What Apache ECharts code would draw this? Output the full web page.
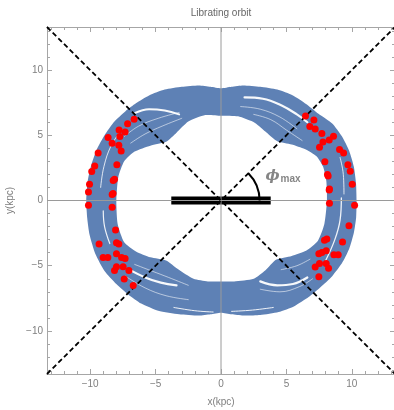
<!DOCTYPE html>
<html>
<head>
<meta charset="utf-8">
<script src="https://cdn.jsdelivr.net/npm/echarts@6/dist/echarts.min.js"></script>
<style>html,body{margin:0;padding:0;background:#fff}#c{width:394px;height:410px}</style>
</head>
<body>
<div id="c"></div>
<script>
// ---------- data ----------
const TITLE = 'Librating orbit';
const X_NAME = 'x(kpc)';
const Y_NAME = 'y(kpc)';
const MAJOR_TICKS = [-10, -5, 0, 5, 10];
const MINOR_TICKS = [-13, -12, -11, -9, -8, -7, -6, -4, -3, -2, -1, 1, 2, 3, 4, 6, 7, 8, 9, 11, 12, 13];

// outer edge of the orbit band (x, y in kpc)
const bandOuter = [
  [10.36, 0], [10.32, 1.3], [10.15, 2.6], [9.8, 3.8], [9.25, 4.9], [8.5, 5.9], [7.45, 6.65], [6.5, 7.4],
  [5.5, 8.05], [4.3, 8.5], [3.0, 8.72], [1.7, 8.82], [0.8, 8.72], [0, 8.6],
  [-0.8, 8.72], [-1.7, 8.82], [-3.0, 8.72], [-4.3, 8.5], [-5.5, 8.05], [-6.5, 7.45], [-7.3, 6.85], [-8.2, 6.0],
  [-8.9, 5.0], [-9.5, 3.9], [-9.95, 2.6], [-10.2, 1.4], [-10.3, 0],
  [-10.22, -1.4], [-10.05, -2.6], [-9.6, -4.1], [-8.9, -5.4], [-8.0, -6.4], [-7.1, -7.2], [-6.1, -7.9],
  [-4.8, -8.45], [-3.2, -8.72], [-1.7, -8.82], [-0.8, -8.72], [0, -8.6],
  [0.8, -8.72], [1.7, -8.82], [3.0, -8.78], [4.4, -8.55], [5.6, -8.1], [6.7, -7.4], [7.6, -6.65],
  [8.5, -5.8], [9.25, -4.8], [9.8, -3.7], [10.15, -2.5], [10.33, -1.3]
];
// inner edge of the orbit band (hole)
const bandInner = [
  [8.1, 0], [8.05, 1.5], [7.8, 2.6], [7.3, 3.4], [6.4, 3.95], [5.4, 4.3], [4.3, 4.55], [3.5, 5.2],
  [2.6, 5.95], [1.3, 6.45], [0, 6.5],
  [-1.2, 6.55], [-2.5, 6.05], [-3.4, 5.2], [-4.2, 4.5], [-5.4, 4.2], [-6.6, 3.75], [-7.4, 3.0], [-7.85, 1.8], [-8.0, 0],
  [-7.9, -1.8], [-7.4, -3.2], [-6.5, -3.9], [-5.4, -4.35], [-4.2, -4.6], [-3.3, -5.25], [-2.1, -6.0], [-1.0, -6.2], [0, -6.2],
  [1.0, -6.2], [2.5, -6.0], [3.4, -5.35], [4.2, -4.55], [5.4, -4.25], [6.5, -3.85], [7.4, -3.1], [7.9, -1.8]
];
// white gaps between orbit strands (wider ones)
const gapTopLeft = [[-6.6, 6.7], [-5.5, 7.0], [-4.3, 6.9], [-3.2, 6.6]];
const gapTopRight = [[1.8, 7.9], [3.2, 7.8], [4.6, 7.3], [5.8, 6.6], [6.6, 6.0]];
const gapBotLeft = [[-7.0, -5.3], [-5.8, -5.9], [-4.6, -6.3], [-3.4, -6.5]];
const gapBotRight = [[3.0, -6.2], [4.3, -6.5], [5.5, -6.4], [6.6, -5.9]];
// thin white streaks
const gapBottomL = [[-3.6, -8.2], [-2.0, -8.45], [-0.6, -8.55]];
const gapBottomR = [[0.8, -8.5], [2.4, -8.4], [4.0, -8.2]];
const gapLeftLow = [[-9.0, -0.8], [-8.9, -2.0], [-8.5, -3.3]];
const gapLeftUp = [[-9.2, 1.0], [-8.95, 2.6], [-8.4, 4.2], [-7.6, 5.4]];
const gapRightLow = [[9.2, 0.2], [9.1, -1.5], [8.7, -3.0], [8.0, -4.6]];
const gapRightUp = [[9.4, 0.5], [9.35, 2.0], [9.1, 3.3]];
const streakTL1 = [[-7.4, 4.9], [-6.3, 5.7], [-4.8, 6.3], [-3.2, 6.75]];
const streakTL2 = [[-6.9, 4.4], [-5.8, 5.1], [-4.5, 5.7], [-3.0, 6.3]];
const streakTR1 = [[1.5, 7.2], [3.0, 7.0], [4.5, 6.4], [5.8, 5.5]];
const streakTR2 = [[2.5, 6.6], [3.8, 6.2], [5.0, 5.4], [6.2, 4.6]];
const streakBL1 = [[-6.6, -4.9], [-5.3, -5.4], [-4.0, -5.9], [-2.5, -6.5]];
const streakBL2 = [[-7.3, -5.8], [-5.8, -6.7], [-4.2, -7.3], [-2.5, -7.6]];
const streakBR1 = [[3.0, -6.8], [4.5, -7.0], [6.0, -6.6], [7.0, -6.0]];
const streakBR2 = [[4.6, -5.3], [5.8, -5.0], [6.8, -4.5]];

// red points
const redDots = [
  [-6.64, 6.22], [-7.14, 5.89], [-7.79, 5.40], [-7.33, 5.25], [-7.73, 4.90], [-8.63, 4.82], [-8.32, 4.38],
  [-7.81, 4.23], [-7.63, 3.80], [-9.39, 3.64], [-9.65, 2.65], [-9.88, 2.22], [-7.96, 2.75], [-8.14, 1.63],
  [-8.24, 1.53], [-10.05, 1.25], [-10.13, 0.66], [-8.25, 0.53], [-8.32, 0.46],
  [-10.13, -0.36], [-8.32, -0.51], [-8.06, -2.27], [-9.32, -3.34], [-7.99, -3.24], [-7.81, -3.34], [-7.99, -4.09],
  [-9.01, -4.36], [-8.65, -4.36], [-7.60, -4.36], [-7.33, -4.44], [-7.99, -5.08], [-7.48, -5.08], [-8.14, -5.36],
  [-7.04, -5.36], [-7.40, -6.02], [-6.71, -6.51],
  [6.46, 6.47], [7.10, 6.17], [6.79, 5.68], [7.20, 5.48], [7.71, 5.13], [8.60, 4.92], [8.27, 4.64], [7.79, 4.48],
  [7.53, 4.08], [9.06, 3.90], [9.37, 3.64], [7.94, 2.98], [9.70, 2.75], [9.88, 2.24], [8.14, 1.99], [8.19, 1.88],
  [10.03, 1.25], [8.29, 0.89], [8.27, 0.80],
  [8.29, -0.21], [10.21, -0.36], [9.78, -1.94], [7.91, -3.04], [8.09, -2.96], [9.29, -3.19], [7.48, -4.09],
  [7.71, -3.98], [8.04, -3.86], [8.63, -4.16], [8.96, -4.16], [7.53, -4.82], [7.20, -5.10], [8.04, -4.82],
  [8.22, -5.20], [7.48, -5.85]
];

const axisXLine = [[-13.3, 0], [13.3, 0]];
const axisYLine = [[0, -13.3], [0, 13.3]];
const diagUp = [[-13.3, -13.3], [13.3, 13.3]];
const diagDown = [[-13.3, 13.3], [13.3, -13.3]];
const barLine = [[-3.8, 0], [3.8, 0]];
const arcRadius = 2.95;      // kpc
const arcAngleDeg = 45;      // phi_max
const phiLabelPos = [[3.36, 1.88]];

// ---------- styling ----------
const BLUE = '#5E81B5';
const FRAME = '#a6a6a6';
const TXT = '#7f7f7f';
const FONT = '"Liberation Sans", Arial, sans-serif';
const RANGE = 13.3;

const fmt = v => String(v).replace('-', '\u2212');

function xAx(pos, major) {
  return {
    type: 'value', position: pos, min: -RANGE, max: RANGE, gridIndex: 0,
    name: (pos === 'bottom' && major) ? X_NAME : '',
    nameLocation: 'middle', nameGap: 23,
    nameTextStyle: { color: TXT, fontSize: 10, fontFamily: FONT },
    axisLine: { show: major, onZero: false, lineStyle: { color: FRAME, width: 1 } },
    axisTick: { show: true, inside: true, length: major ? 5 : 3, customValues: major ? MAJOR_TICKS : MINOR_TICKS,
      lineStyle: { color: FRAME, width: 1 } },
    axisLabel: { show: pos === 'bottom' && major, customValues: MAJOR_TICKS, formatter: fmt,
      color: TXT, fontSize: 10, fontFamily: FONT, margin: 5 },
    splitLine: { show: false }, minorTick: { show: false }
  };
}
function yAx(pos, major) {
  return {
    type: 'value', position: pos, min: -RANGE, max: RANGE, gridIndex: 0,
    name: (pos === 'left' && major) ? Y_NAME : '',
    nameLocation: 'middle', nameGap: 31, nameRotate: 90,
    nameTextStyle: { color: TXT, fontSize: 10, fontFamily: FONT },
    axisLine: { show: major, onZero: false, lineStyle: { color: FRAME, width: 1 } },
    axisTick: { show: true, inside: true, length: major ? 5 : 3, customValues: major ? MAJOR_TICKS : MINOR_TICKS,
      lineStyle: { color: FRAME, width: 1 } },
    axisLabel: { show: pos === 'left' && major, customValues: MAJOR_TICKS, formatter: fmt,
      color: TXT, fontSize: 10, fontFamily: FONT, margin: 4 },
    splitLine: { show: false }, minorTick: { show: false }
  };
}

function lineSeries(data, color, width, z, type, opacity, cap) {
  return {
    type: 'line', data: data, xAxisIndex: 0, yAxisIndex: 0, symbol: 'none', silent: true, z: z,
    smooth: data.length > 2 ? 0.4 : false, animation: false,
    lineStyle: { color: color, width: width, type: type || 'solid', cap: cap || 'butt', opacity: opacity == null ? 1 : opacity }
  };
}

const gaps = [
  [gapTopLeft, 2, 0.95], [gapTopRight, 2.2, 0.95], [gapBotLeft, 2.2, 0.95], [gapBotRight, 2.2, 0.95],
  [gapBottomL, 1, 0.9], [gapBottomR, 1, 0.9], [gapLeftLow, 1.2, 0.9], [gapLeftUp, 1, 0.8],
  [gapRightLow, 1.3, 0.9], [gapRightUp, 1, 0.8],
  [streakTL1, 0.8, 0.7], [streakTL2, 0.8, 0.7], [streakTR1, 0.8, 0.7], [streakTR2, 0.8, 0.7],
  [streakBL1, 0.8, 0.7], [streakBL2, 0.8, 0.7], [streakBR1, 0.8, 0.7], [streakBR2, 0.8, 0.7]
];

const chart = echarts.init(document.getElementById('c'), null, { renderer: 'canvas' });
chart.setOption({
  animation: false,
  backgroundColor: '#fff',
  grid: { left: 47, top: 27, width: 348, height: 347, containLabel: false, outerBoundsMode: 'none' },
  graphic: [{
    type: 'text', x: 221, y: 13,
    style: { text: TITLE, fill: '#666', font: '10px ' + FONT, align: 'center', verticalAlign: 'middle' }
  }],
  xAxis: [xAx('bottom', true), xAx('bottom', false), xAx('top', true), xAx('top', false)],
  yAxis: [yAx('left', true), yAx('left', false), yAx('right', true), yAx('right', false)],
  series: [
    {
      type: 'custom', coordinateSystem: 'cartesian2d', xAxisIndex: 0, yAxisIndex: 0, data: [[0, 0]], silent: true, z: 1,
      renderItem: (params, api) => ({
        type: 'group', children: [
          { type: 'polygon', shape: { points: bandOuter.map(p => api.coord(p)), smooth: 0.2 }, style: { fill: BLUE } },
          { type: 'polygon', shape: { points: bandInner.map(p => api.coord(p)), smooth: 0.2 }, style: { fill: '#fff' } }
        ]
      })
    },
    ...gaps.map(g => lineSeries(g[0], '#ffffff', g[1], 2, 'solid', g[2], 'round')),
    lineSeries(barLine, '#000', 8, 3),
    lineSeries(axisXLine, '#9a9a9a', 1, 4),
    lineSeries(axisYLine, '#9a9a9a', 1, 4),
    lineSeries(diagUp, '#000', 1.8, 5, [5, 3]),
    lineSeries(diagDown, '#000', 1.8, 5, [5, 3]),
    {
      type: 'custom', coordinateSystem: 'cartesian2d', xAxisIndex: 0, yAxisIndex: 0, data: [[0, 0]], silent: true, z: 6,
      renderItem: (params, api) => {
        const c = api.coord([0, 0]);
        const e = api.coord([arcRadius, 0]);
        return {
          type: 'arc',
          shape: { cx: c[0], cy: c[1], r: e[0] - c[0], startAngle: -arcAngleDeg * Math.PI / 180, endAngle: 0, clockwise: true },
          style: { stroke: '#000', lineWidth: 2, fill: null }
        };
      }
    },
    {
      type: 'scatter', data: redDots, xAxisIndex: 0, yAxisIndex: 0, symbol: 'circle', symbolSize: 7, z: 7, silent: true,
      itemStyle: { color: '#ff0000', opacity: 1 }
    },
    {
      type: 'scatter', data: phiLabelPos, xAxisIndex: 0, yAxisIndex: 0, symbol: 'circle', symbolSize: 1, z: 8, silent: true,
      itemStyle: { color: 'rgba(0,0,0,0)' },
      label: {
        show: true, position: 'right', distance: 0, formatter: '{p|\u03D5}{m|max}',
        rich: {
          p: { fontSize: 15, fontWeight: 'bold', fontStyle: 'italic', color: '#666', fontFamily: '"DejaVu Serif", serif' },
          m: { fontSize: 10, fontWeight: 'bold', color: '#666', fontFamily: FONT, padding: [6, 0, 0, 1] }
        }
      }
    }
  ]
});
</script>
</body>
</html>
